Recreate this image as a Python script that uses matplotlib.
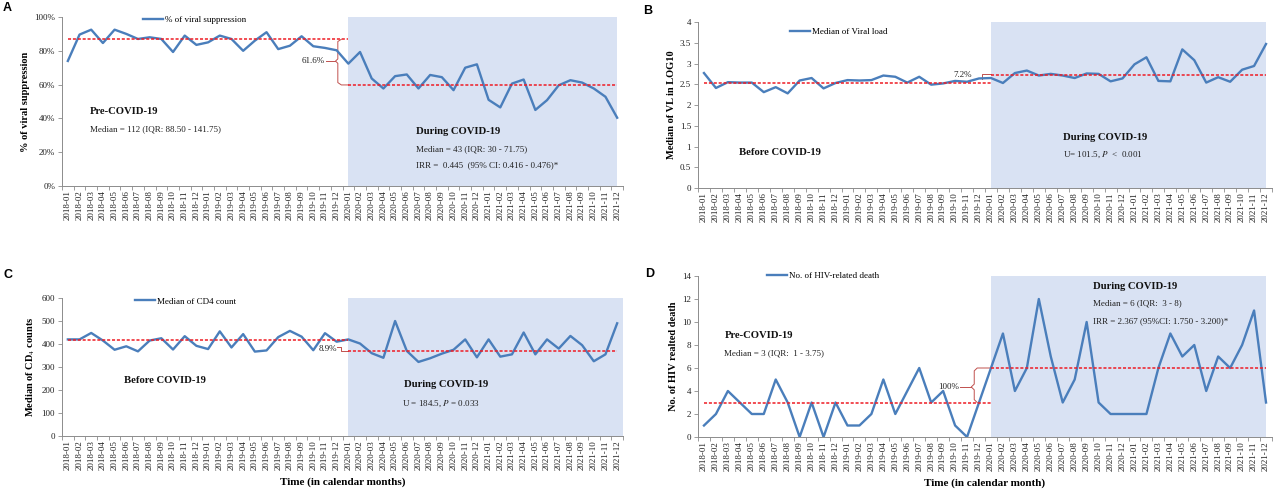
import matplotlib.pyplot as plt
import numpy as np

plt.rcParams['font.family'] = ['Liberation Serif', 'DejaVu Serif']
plt.rcParams['mathtext.fontset'] = 'stix'

years = ['2018', '2019', '2020', '2021']
months = [y + '-%02d' % m for y in years for m in range(1, 13)]

# A: % of viral suppression
viral_suppression = [74, 89.6, 92.5, 84.6, 92.5, 90, 87, 88, 87, 79.3, 89, 83.5,
                     85, 89, 87, 80, 86, 91, 81, 83, 88.6, 82.7, 81.7, 80.3,
                     72.4, 79.3, 63.6, 57.7, 65, 66, 57.7, 65.7, 64.4, 56.7, 70, 72,
                     51, 46.5, 60.6, 63, 45, 50.8, 59.6, 62.6, 61.2, 57.7, 52.8, 40.4]
# B: median viral load (log10)
viral_load = [2.77, 2.41, 2.55, 2.54, 2.54, 2.31, 2.43, 2.28, 2.59, 2.65, 2.40, 2.53,
              2.60, 2.59, 2.60, 2.71, 2.68, 2.54, 2.68, 2.49, 2.52, 2.58, 2.56, 2.64,
              2.65, 2.53, 2.77, 2.83, 2.71, 2.75, 2.71, 2.65, 2.76, 2.75, 2.57, 2.64,
              2.98, 3.15, 2.58, 2.57, 3.34, 3.08, 2.54, 2.67, 2.56, 2.85, 2.94, 3.47]
# C: median CD4 count
cd4_count = [420, 420, 448, 415, 375, 390, 368, 415, 425, 376, 434, 392,
             378, 455, 385, 443, 367, 372, 430, 457, 432, 373, 447, 410,
             420, 402, 360, 340, 500, 370, 322, 338, 358, 375, 420, 342,
             420, 345, 355, 450, 355, 420, 380, 435, 395, 325, 355, 490]
# D: HIV-related deaths
hiv_deaths = [1, 2, 4, 3, 2, 2, 5, 3, 0, 3, 0, 3,
              1, 1, 2, 5, 2, 4, 6, 3, 4, 1, 0, 3,
              6, 9, 4, 6, 12, 7, 3, 5, 10, 3, 2, 2,
              2, 2, 6, 9, 7, 8, 4, 7, 6, 8, 11, 3]

LINE_BLUE = '#4a7ebb'
SHADE = '#d9e2f3'
MEDIAN_RED = '#ee1c25'
BRACE = '#c0504d'
AXIS_GRAY = '#8c8c8c'
TEXT = '#222222'


def draw_panel(ax, values, med_pre, med_post, ymax, ystep, ylabel, legend_label,
               legend_xy, shade_end=47, yfmt='{:g}'):
    x = np.arange(len(values))
    ax.axvspan(24, shade_end, color=SHADE, lw=0, zorder=0)
    ax.plot(x, values, color=LINE_BLUE, lw=1.7, label=legend_label, zorder=3)
    ax.plot([0, 24], [med_pre, med_pre], color=MEDIAN_RED, lw=1.1,
            ls=(0, (2, 1.2)), zorder=4)
    ax.plot([24, 47], [med_post, med_post], color=MEDIAN_RED, lw=1.1,
            ls=(0, (2, 1.2)), zorder=4)
    ax.set_xlim(-0.5, 47.5)
    ax.set_ylim(0, ymax)
    ticks = np.arange(0, ymax + ystep / 2, ystep)
    ax.set_yticks(ticks)
    ax.set_yticklabels([yfmt.format(t) for t in ticks], fontsize=6.5, color=TEXT)
    ax.set_xticks(x)
    ax.set_xticklabels(months, rotation=90, fontsize=6.5, color=TEXT)
    ax.set_xticks(np.arange(-0.5, 48, 1), minor=True)
    ax.tick_params(axis='x', which='major', length=0, pad=3)
    ax.tick_params(axis='x', which='minor', length=3, color=AXIS_GRAY, width=0.6)
    ax.tick_params(axis='y', length=3, color=AXIS_GRAY, width=0.6, pad=2)
    for s in ['top', 'right']:
        ax.spines[s].set_visible(False)
    for s in ['left', 'bottom']:
        ax.spines[s].set_color(AXIS_GRAY)
        ax.spines[s].set_linewidth(0.7)
    ax.set_ylabel(ylabel, fontsize=7.5, fontweight='bold', labelpad=3)
    ax.legend(loc='center left', bbox_to_anchor=legend_xy, frameon=False,
              fontsize=6.5, handlelength=2.2, handletextpad=0.2,
              borderpad=0, borderaxespad=0)


fig = plt.figure(figsize=(12.8, 4.95), dpi=100)
ax_a = fig.add_axes([62 / 1280, 1 - 186 / 495, 561 / 1280, 169 / 495])
ax_b = fig.add_axes([698 / 1280, 1 - 188 / 495, 574 / 1280, 166 / 495])
ax_c = fig.add_axes([62 / 1280, 1 - 436 / 495, 561 / 1280, 138 / 495])
ax_d = fig.add_axes([698 / 1280, 1 - 437 / 495, 574 / 1280, 161 / 495])

hdr = dict(fontsize=7.7, fontweight='bold', color='#111111')
txt = dict(fontsize=6.5, color=TEXT)

# panel A
draw_panel(ax_a, viral_suppression, 86.8, 59.8, 100, 20, '% of viral suppression',
           '% of viral suppression', (0.145, 0.985), yfmt='{:g}%')
ax_a.text(1.9, 44.3, 'Pre-COVID-19', va='center', **hdr)
ax_a.text(1.9, 33.7, 'Median = 112 (IQR: 88.50 - 141.75)', va='center', **txt)
ax_a.text(29.8, 32.5, 'During COVID-19', va='center', **hdr)
ax_a.text(29.8, 21.9, 'Median = 43 (IQR: 30 - 71.75)', va='center', **txt)
ax_a.text(29.8, 12.6, 'IRR =  0.445  (95% CI: 0.416 - 0.476)*', va='center', **txt)
ax_a.text(22.0, 73.9, '61.6%', ha='right', va='center', **txt)
ax_a.plot([23.4, 23.1, 23.1, 22.9, 23.1, 23.1, 23.4, 24.0],
          [86.8, 85.5, 75.2, 73.9, 72.6, 61.2, 59.8, 59.8], color=BRACE, lw=0.7, zorder=2)
ax_a.plot([22.1, 22.9], [73.9, 73.9], color=BRACE, lw=0.7, zorder=2)

# panel B
draw_panel(ax_b, viral_load, 2.54, 2.73, 4, 0.5, 'Median of VL in LOG10',
           'Median of Viral load', (0.16, 0.94))
ax_b.text(2.9, 0.85, 'Before COVID-19', va='center', **hdr)
ax_b.text(30.0, 1.21, 'During COVID-19', va='center', **hdr)
ax_b.text(30.0, 0.80, 'U= 101.5, $P$  <  0.001', va='center', **txt)
ax_b.text(22.4, 2.73, '7.2%', ha='right', va='center', **txt)
ax_b.plot([24.0, 23.25, 23.25], [2.75, 2.75, 2.63], color=BRACE, lw=0.7, zorder=2)

# panel C
draw_panel(ax_c, cd4_count, 418, 368, 600, 100, 'Median of CD$_4$ counts',
           'Median of CD4 count', (0.13, 0.975), shade_end=47.5)
ax_c.text(4.8, 241, 'Before COVID-19', va='center', **hdr)
ax_c.text(28.8, 222, 'During COVID-19', va='center', **hdr)
ax_c.text(28.6, 142, 'U = 184.5, $P$ = 0.033', va='center', **txt)
ax_c.text(23.0, 380, '8.9%', ha='right', va='center', **txt)
ax_c.plot([23.05, 23.4, 23.4, 24.0], [386, 386, 368, 368], color=BRACE, lw=0.7, zorder=2)
ax_c.set_xlabel('Time (in calendar months)', fontsize=8, fontweight='bold', labelpad=5)

# panel D
draw_panel(ax_d, hiv_deaths, 3, 6, 14, 2, 'No. of HIV realted death',
           'No. of HIV-related death', (0.12, 1.0))
ax_d.text(1.7, 8.85, 'Pre-COVID-19', va='center', **hdr)
ax_d.text(1.7, 7.3, 'Median = 3 (IQR:  1 - 3.75)', va='center', **txt)
ax_d.text(32.5, 13.07, 'During COVID-19', va='center', **hdr)
ax_d.text(32.5, 11.6, 'Median = 6 (IQR:  3 - 8)', va='center', **txt)
ax_d.text(32.5, 10.1, 'IRR = 2.367 (95%CI: 1.750 - 3.200)*', va='center', **txt)
ax_d.text(21.3, 4.35, '100%', ha='right', va='center', **txt)
ax_d.plot([24.0, 22.85, 22.6, 22.6, 22.35, 22.6, 22.6, 22.85],
          [6.0, 6.0, 5.75, 4.6, 4.35, 4.1, 3.25, 3.0], color=BRACE, lw=0.7, zorder=2)
ax_d.plot([21.4, 22.35], [4.35, 4.35], color=BRACE, lw=0.7, zorder=2)
ax_d.set_xlabel('Time (in calendar month)', fontsize=8, fontweight='bold', labelpad=5)

letter = dict(fontsize=9, fontweight='bold', family=['Liberation Sans', 'DejaVu Sans'],
              va='center', ha='left')
fig.text(3 / 1280, 1 - 8 / 495, 'A', **letter)
fig.text(643 / 1280, 1 - 11 / 495, 'B', **letter)
fig.text(4 / 1280, 1 - 275 / 495, 'C', **letter)
fig.text(645 / 1280, 1 - 274 / 495, 'D', **letter)

fig.savefig('out.png', dpi=100)
